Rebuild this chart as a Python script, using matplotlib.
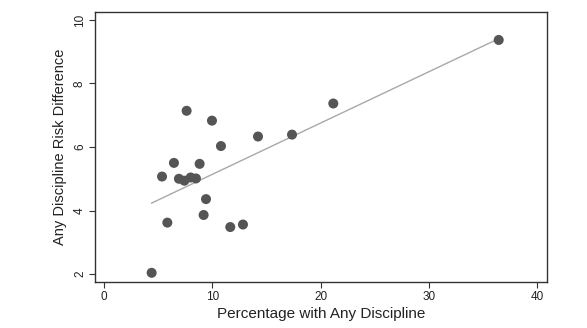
import numpy as np
from matplotlib import pyplot as plt

plt.rcParams['font.family'] = ['Liberation Sans', 'DejaVu Sans']

# percentage with any discipline vs risk difference
pct = [4.4, 5.85, 5.36, 6.46, 7.63, 9.97, 10.8, 8.83, 6.92, 7.42,
       8.0, 8.49, 9.42, 9.2, 11.66, 12.83, 14.22, 17.36, 21.17, 36.44]
risk = [2.04, 3.62, 5.07, 5.50, 7.14, 6.83, 6.03, 5.47, 5.0, 4.94,
        5.04, 5.01, 4.36, 3.86, 3.48, 3.56, 6.33, 6.39, 7.37, 9.37]
xticks = [0, 10, 20, 30, 40]
yticks = [2, 4, 6, 8, 10]

x = np.array(pct)
y = np.array(risk)
b, a = np.polyfit(x, y, 1)
xs = np.array([x.min(), x.max()])

fig = plt.figure(figsize=(5.87, 3.28), dpi=100)
ax = fig.add_axes([0.1618, 0.1402, 0.7701, 0.8232])

ax.plot(xs, a + b * xs, color='#a8a8a8', lw=1.0, zorder=2)
ax.scatter(x, y, s=52, color='#555555', edgecolor='none', zorder=3)

ax.set_xlim(-0.83, 40.9)
ax.set_ylim(1.75, 10.25)
ax.set_xticks(xticks)
ax.set_yticks(yticks)
ax.tick_params(direction='out', length=4, width=0.8, color='#333333',
               labelsize=8.5, labelcolor='#222222', pad=2.5)
for lab in ax.get_yticklabels():
    lab.set_rotation(90)
    lab.set_va('center')
for sp in ax.spines.values():
    sp.set_color('#333333')
    sp.set_linewidth(1.0)

ax.set_xlabel('Percentage with Any Discipline', fontsize=11, color='#222222', labelpad=3)
ax.set_ylabel('Any Discipline Risk Difference', fontsize=10.5, color='#222222', labelpad=5)

plt.savefig('out.png', dpi=100)
